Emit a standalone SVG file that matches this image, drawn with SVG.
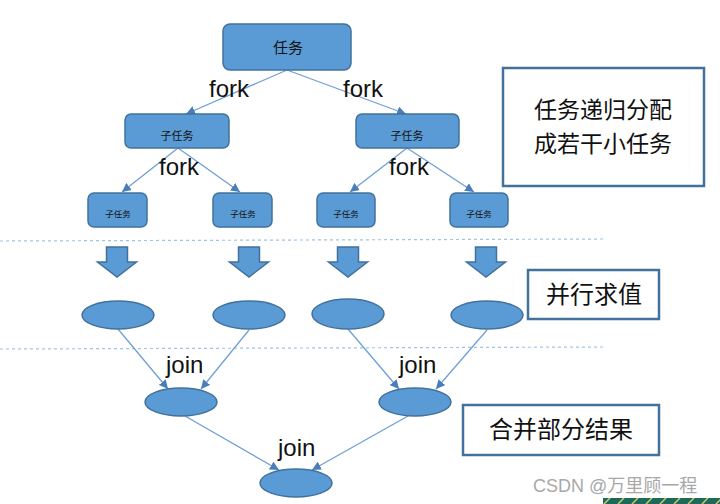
<svg xmlns="http://www.w3.org/2000/svg" width="720" height="504" viewBox="0 0 720 504">
<defs>
<style>
.node{fill:#5B9BD5;stroke:#41719C;stroke-width:1.5}
.conn{stroke:#6F9FD8;stroke-width:1.3;fill:none;marker-end:url(#ah)}
.dash{stroke:#9DC3E6;stroke-width:1.2;stroke-dasharray:3 3;fill:none}
.lbl{font-family:"Liberation Sans",Arial,sans-serif;font-size:24px;fill:#111}
.cn{font-family:"Noto Sans CJK SC",sans-serif;fill:#111;text-anchor:middle}
.box{fill:#fff;stroke:#41719C;stroke-width:2.5}
.big{font-size:24px}
</style>
<marker id="ah" viewBox="0 0 10 10" refX="10" refY="5" markerWidth="9" markerHeight="9" markerUnits="userSpaceOnUse" orient="auto">
<path d="M0,0 L10,5 L0,10 Z" fill="#4A7EBB"/>
</marker>
<pattern id="stripe" width="14" height="6" patternUnits="userSpaceOnUse">
<rect width="14" height="6" fill="#1E6A5A"/>
<path d="M2,6 L8,0" stroke="#C9C36A" stroke-width="1.5"/>
</pattern>
</defs>
<rect width="720" height="504" fill="#fff"/>

<g id="separators">
<line class="dash" x1="0" y1="241" x2="605" y2="239"/>
<line class="dash" x1="0" y1="349" x2="605" y2="347"/>
</g>

<g id="connectors">
<line class="conn" x1="287" y1="70" x2="186" y2="114"/>
<line class="conn" x1="287" y1="70" x2="406" y2="114"/>
<line class="conn" x1="178" y1="148" x2="122" y2="192"/>
<line class="conn" x1="178" y1="148" x2="240" y2="192"/>
<line class="conn" x1="407" y1="148" x2="350" y2="192"/>
<line class="conn" x1="407" y1="148" x2="474" y2="192"/>
<line class="conn" x1="118" y1="329" x2="168" y2="389"/>
<line class="conn" x1="249" y1="330" x2="201" y2="389"/>
<line class="conn" x1="348" y1="329" x2="399" y2="389"/>
<line class="conn" x1="487" y1="330" x2="436" y2="389"/>
<line class="conn" x1="185" y1="416" x2="279" y2="470"/>
<line class="conn" x1="408" y1="416" x2="312" y2="470"/>
<text class="lbl" x="209" y="97">fork</text>
<text class="lbl" x="343" y="97">fork</text>
<text class="lbl" x="159" y="175">fork</text>
<text class="lbl" x="389" y="175">fork</text>
<text class="lbl" x="166" y="373">join</text>
<text class="lbl" x="399" y="373">join</text>
<text class="lbl" x="278" y="456">join</text>
</g>

<g id="task">
<rect class="node" x="223" y="24" width="128" height="46" rx="7"/>
<text class="cn" x="288" y="53" font-size="15">任务</text>
</g>
<g id="sub-left">
<rect class="node" x="125" y="114" width="104" height="34" rx="6"/>
<text class="cn" x="177" y="140" font-size="11">子任务</text>
</g>
<g id="sub-right">
<rect class="node" x="356" y="114" width="103" height="34" rx="6"/>
<text class="cn" x="407" y="140" font-size="11">子任务</text>
</g>
<g id="leaf-1">
<rect class="node" x="88" y="193" width="59" height="34" rx="6"/>
<text class="cn" x="118" y="217" font-size="8.5">子任务</text>
</g>
<g id="leaf-2">
<rect class="node" x="213" y="193" width="59" height="34" rx="6"/>
<text class="cn" x="243" y="217" font-size="8.5">子任务</text>
</g>
<g id="leaf-3">
<rect class="node" x="317" y="193" width="58" height="34" rx="6"/>
<text class="cn" x="346" y="217" font-size="8.5">子任务</text>
</g>
<g id="leaf-4">
<rect class="node" x="450" y="193" width="58" height="34" rx="6"/>
<text class="cn" x="479" y="217" font-size="8.5">子任务</text>
</g>

<g id="down-arrows">
<path class="node" d="M106.5,247 H127.5 V262 H136.5 L117,277 L97.5,262 H106.5 Z"/>
<path class="node" d="M238.5,247 H259.5 V262 H268.5 L249,277 L229.5,262 H238.5 Z"/>
<path class="node" d="M337.5,247 H358.5 V262 H367.5 L348,277 L328.5,262 H337.5 Z"/>
<path class="node" d="M475.5,247 H496.5 V262 H505.5 L486,277 L466.5,262 H475.5 Z"/>
</g>

<g id="eval-1"><ellipse class="node" cx="118" cy="315" rx="36" ry="14"/></g>
<g id="eval-2"><ellipse class="node" cx="249" cy="315" rx="36" ry="14"/></g>
<g id="eval-3"><ellipse class="node" cx="348" cy="314" rx="36" ry="15"/></g>
<g id="eval-4"><ellipse class="node" cx="487" cy="315" rx="36" ry="14"/></g>
<g id="join-left"><ellipse class="node" cx="181" cy="402" rx="36" ry="14"/></g>
<g id="join-right"><ellipse class="node" cx="415" cy="402" rx="36" ry="14"/></g>
<g id="result"><ellipse class="node" cx="296" cy="483" rx="36" ry="14"/></g>

<g id="note-split">
<rect class="box" x="503" y="68" width="201" height="118"/>
<text class="cn" x="603" y="118" font-size="23">任务递归分配</text>
<text class="cn" x="603" y="152" font-size="23">成若干小任务</text>
</g>
<g id="note-eval">
<rect class="box" x="528" y="270" width="131" height="49"/>
<text class="cn big" x="594" y="303">并行求值</text>
</g>
<g id="note-merge">
<rect class="box" x="463" y="405" width="196" height="50"/>
<text class="cn big" x="561" y="438">合并部分结果</text>
</g>

<g id="watermark">
<text x="533" y="492" font-family="'Liberation Sans','Noto Sans CJK SC',sans-serif" font-size="18" fill="#A8A8A8">CSDN @万里顾一程</text>
<rect x="603" y="498" width="117" height="6" fill="url(#stripe)"/>
</g>
</svg>
